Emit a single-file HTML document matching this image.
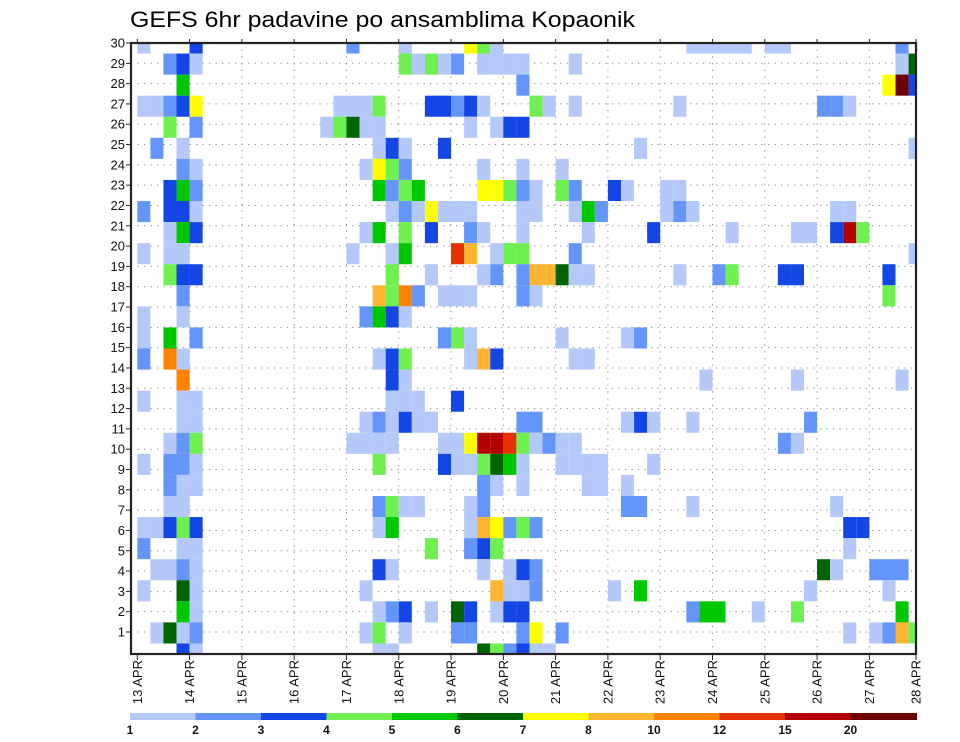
<!DOCTYPE html>
<html><head><meta charset="utf-8">
<style>
html,body{margin:0;padding:0;background:#fff;}
svg{display:block;font-family:"Liberation Sans",sans-serif;}
</style></head>
<body>
<svg id="chart" width="960" height="742" viewBox="0 0 960 742" xmlns="http://www.w3.org/2000/svg">
<text x="130" y="27" font-size="22" textLength="505" lengthAdjust="spacingAndGlyphs">GEFS 6hr padavine po ansamblima Kopaonik</text>
<g id="grid"></g>
<g id="cells"></g>
<g id="axes"></g>
<g id="cbar"></g>
</svg>
<script>
// ---- data ----
const dayLabels = ["13 APR","14 APR","15 APR","16 APR","17 APR","18 APR","19 APR","20 APR","21 APR","22 APR","23 APR","24 APR","25 APR","26 APR","27 APR","28 APR"];
const memberLabels = [30,29,28,27,26,25,24,23,22,21,20,19,18,17,16,15,14,13,12,11,10,9,8,7,6,5,4,3,2,1];
const levels = [1,2,3,4,5,6,7,8,10,12,15,20];
const levelColors = ["#b4c8fa","#6496fa","#1446e6","#6ef050","#00c800","#006400","#ffff00","#ffb432","#ff8200","#e63200","#b40000","#6e0000"];
// precipitation per ensemble row (top to bottom), sparse [6h-step index, mm]
const precip = [
[[0,1.5],[4,3.5],[16,2.5],[20,1.5],[25,7.5],[26,4.5],[27,1.5],[42,1.5],[43,1.5],[44,1.5],[45,1.5],[46,1.5],[48,1.5],[49,1.5],[58,2.5]],
[[2,2.5],[3,3.5],[4,1.5],[20,4.5],[21,1.5],[22,4.5],[23,1.5],[24,2.5],[26,1.5],[27,1.5],[28,1.5],[29,1.5],[33,1.5],[58,1.5],[59,6.5]],
[[3,5.5],[29,2.5],[57,7.5],[58,22],[59,3.5]],
[[0,1.5],[1,1.5],[2,2.5],[3,3.5],[4,7.5],[15,1.5],[16,1.5],[17,1.5],[18,4.5],[22,3.5],[23,3.5],[24,2.5],[25,3.5],[26,1.5],[30,4.5],[31,1.5],[33,1.5],[41,1.5],[52,2.5],[53,2.5],[54,1.5]],
[[2,4.5],[4,2.5],[14,1.5],[15,4.5],[16,6.5],[17,1.5],[18,1.5],[25,1.5],[27,1.5],[28,3.5],[29,3.5]],
[[1,2.5],[3,1.5],[18,1.5],[19,3.5],[20,1.5],[23,3.5],[38,1.5],[59,1.5]],
[[3,2.5],[4,1.5],[17,1.5],[18,7.5],[19,4.5],[20,2.5],[26,1.5],[29,1.5],[32,1.5]],
[[2,3.5],[3,5.5],[4,2.5],[18,5.5],[19,2.5],[20,4.5],[21,5.5],[26,7.5],[27,7.5],[28,4.5],[29,2.5],[30,1.5],[32,4.5],[33,2.5],[36,3.5],[37,1.5],[40,1.5],[41,1.5]],
[[0,2.5],[2,3.5],[3,3.5],[4,1.5],[19,1.5],[20,2.5],[21,1.5],[22,7.5],[23,1.5],[24,1.5],[25,1.5],[29,1.5],[30,1.5],[33,1.5],[34,5.5],[35,2.5],[40,1.5],[41,2.5],[42,1.5],[53,1.5],[54,1.5]],
[[2,1.5],[3,5.5],[4,3.5],[17,1.5],[18,5.5],[20,4.5],[22,3.5],[25,2.5],[26,1.5],[29,1.5],[34,1.5],[39,3.5],[45,1.5],[50,1.5],[51,1.5],[53,3.5],[54,17],[55,4.5]],
[[0,1.5],[2,1.5],[3,1.5],[16,1.5],[19,1.5],[20,5.5],[24,13.5],[25,9],[27,1.5],[28,4.5],[29,4.5],[33,2.5],[59,1.5]],
[[2,4.5],[3,3.5],[4,3.5],[19,4.5],[22,1.5],[26,1.5],[27,2.5],[29,2.5],[30,9],[31,9],[32,6.5],[33,1.5],[34,1.5],[41,1.5],[44,2.5],[45,4.5],[49,3.5],[50,3.5],[57,3.5]],
[[3,2.5],[18,9],[19,4.5],[20,11],[21,2.5],[23,1.5],[24,1.5],[25,1.5],[29,2.5],[30,1.5],[57,4.5]],
[[0,1.5],[3,1.5],[17,2.5],[18,5.5],[19,3.5],[20,1.5]],
[[0,1.5],[2,5.5],[4,2.5],[23,2.5],[24,4.5],[25,1.5],[32,1.5],[37,1.5],[38,2.5]],
[[0,2.5],[2,11],[3,1.5],[18,1.5],[19,3.5],[20,4.5],[25,1.5],[26,9],[27,3.5],[33,1.5],[34,1.5]],
[[3,11],[19,3.5],[20,1.5],[43,1.5],[50,1.5],[58,1.5]],
[[0,1.5],[3,1.5],[4,1.5],[19,1.5],[20,1.5],[21,1.5],[24,3.5]],
[[3,1.5],[4,1.5],[17,1.5],[18,2.5],[19,1.5],[20,3.5],[21,1.5],[22,1.5],[29,2.5],[30,2.5],[37,1.5],[38,3.5],[39,1.5],[42,1.5],[51,2.5]],
[[2,1.5],[3,2.5],[4,4.5],[16,1.5],[17,1.5],[18,1.5],[19,1.5],[23,1.5],[24,1.5],[25,7.5],[26,17],[27,17],[28,13.5],[29,4.5],[30,1.5],[31,2.5],[32,1.5],[33,1.5],[49,2.5],[50,1.5]],
[[0,1.5],[2,2.5],[3,2.5],[4,1.5],[18,4.5],[23,3.5],[24,1.5],[25,1.5],[26,4.5],[27,6.5],[28,5.5],[29,1.5],[32,1.5],[33,1.5],[34,1.5],[35,1.5],[39,1.5]],
[[2,2.5],[3,1.5],[4,1.5],[26,2.5],[27,1.5],[29,1.5],[34,1.5],[35,1.5],[37,1.5]],
[[2,1.5],[3,1.5],[18,2.5],[19,4.5],[20,1.5],[21,1.5],[25,1.5],[26,2.5],[37,2.5],[38,2.5],[42,1.5],[53,1.5]],
[[0,1.5],[1,1.5],[2,3.5],[3,4.5],[4,3.5],[18,1.5],[19,5.5],[25,1.5],[26,9],[27,7.5],[28,2.5],[29,4.5],[30,2.5],[54,3.5],[55,3.5]],
[[0,2.5],[3,1.5],[4,1.5],[22,4.5],[25,2.5],[26,3.5],[27,4.5],[54,1.5]],
[[1,1.5],[2,1.5],[3,2.5],[4,1.5],[18,3.5],[19,1.5],[26,1.5],[28,1.5],[29,3.5],[30,2.5],[52,6.5],[53,1.5],[56,2.5],[57,2.5],[58,2.5]],
[[0,1.5],[3,6.5],[4,1.5],[17,1.5],[27,9],[28,1.5],[29,1.5],[30,2.5],[36,1.5],[38,5.5],[51,1.5],[57,1.5]],
[[3,5.5],[4,1.5],[18,1.5],[19,2.5],[20,3.5],[22,1.5],[24,6.5],[25,3.5],[27,1.5],[28,3.5],[29,3.5],[42,2.5],[43,5.5],[44,5.5],[47,1.5],[50,4.5],[58,5.5]],
[[1,1.5],[2,6.5],[3,1.5],[4,2.5],[17,1.5],[18,4.5],[20,1.5],[24,2.5],[25,2.5],[29,2.5],[30,7.5],[32,2.5],[54,1.5],[56,1.5],[57,2.5],[58,9],[59,4.5]],
[[3,3.5],[4,1.5],[18,1.5],[19,1.5],[26,6.5],[27,4.5],[28,2.5],[29,3.5],[30,1.5],[31,1.5]]
];
// ---- layout ----
const NS="http://www.w3.org/2000/svg";
const L=131, R=916, T=43, B=654;
const x0=137.3, dayW=52.29, stepW=dayW/4;
const cellH=(B-T)/29;
const labelSpacing=20.31;
function xStep(j){return x0+j*stepW;}
function xDay(d){return Math.min(x0+d*dayW, R);}
function yRow(i){return T+i*cellH;}
function yLabel(k){return T+k*labelSpacing;}
function colorFor(v){let c=null;for(let k=0;k<levels.length;k++){if(v>=levels[k])c=levelColors[k];}return c;}
function mk(tag,attrs,parent){const e=document.createElementNS(NS,tag);for(const k in attrs)e.setAttribute(k,attrs[k]);parent.appendChild(e);return e;}

const grid=document.getElementById('grid');
for(let k=0;k<memberLabels.length;k++){
  const y=yLabel(k);
  const ln=mk('line',{x1:L,x2:R,y1:y,y2:y,stroke:'#888','stroke-width':1,'stroke-dasharray':'1.2 5.3'},grid);
  
  
}
for(let d=1;d<dayLabels.length-1;d++){
  const x=xDay(d);
  const ln=mk('line',{x1:x,x2:x,y1:T,y2:B,stroke:'#888','stroke-width':1,'stroke-dasharray':'1.2 5.5'},grid);
  
  
}
const cells=document.getElementById('cells');
precip.forEach((row,i)=>{
  row.forEach(([j,v])=>{
    const c=colorFor(v); if(!c) return;
    let y1=Math.max(T,yRow(i)-cellH/2), y2=Math.min(B,yRow(i)+cellH/2);
    let xa=xStep(j), xb=Math.min(R,xStep(j+1));
    const r=mk('rect',{x:xa.toFixed(2),y:y1.toFixed(2),width:(xb-xa).toFixed(2),height:(y2-y1).toFixed(2),fill:c},cells);
    
    
  });
});
const axes=document.getElementById('axes');
const frame=mk('rect',{x:L,y:T,width:R-L,height:B-T,fill:'none',stroke:'#222','stroke-width':2.2},axes);


memberLabels.forEach((m,k)=>{
  const y=yLabel(k);
  mk('line',{x1:L-5,x2:L,y1:y,y2:y,stroke:'#222','stroke-width':1},axes);
  const t=mk('text',{x:L-6,y:y+4.5,'font-size':13,'text-anchor':'end',fill:'#111'},axes);
  t.textContent=m;
  
  
});
dayLabels.forEach((lab,d)=>{
  const x=xDay(d);
  mk('line',{x1:x,x2:x,y1:B,y2:B+6,stroke:'#222','stroke-width':1},axes);
  mk('line',{x1:x,x2:x,y1:T-4,y2:T,stroke:'#222','stroke-width':1},axes);
  const t=mk('text',{x:0,y:0,'font-size':13,'text-anchor':'end',fill:'#111',transform:`translate(${x+4.5},${B+6}) rotate(-90)`},axes);
  t.textContent=lab;
  
  
});
const cbar=document.getElementById('cbar');
const cbL=130, cbW=65.5, cbY=713, cbH=7;
levelColors.forEach((c,k)=>{
  const r=mk('rect',{x:cbL+k*cbW,y:cbY,width:(k===levelColors.length-1?R+1-(cbL+k*cbW):cbW),height:cbH,fill:c},cbar);
  
  
  const t=mk('text',{x:cbL+k*cbW,y:734,'font-size':12,'text-anchor':'middle','font-weight':'bold',fill:'#111'},cbar);
  t.textContent=levels[k];
  
  
});
</script>
</body></html>
